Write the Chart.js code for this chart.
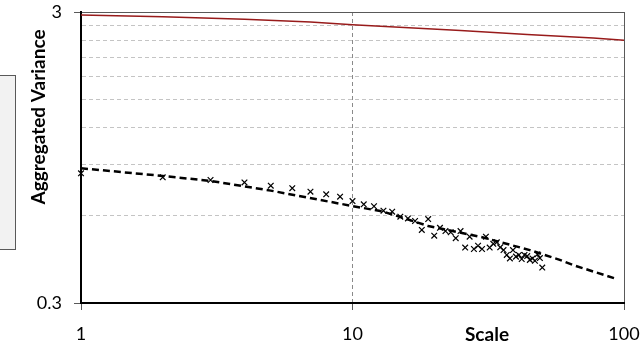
<!DOCTYPE html>
<html>
<head>
<meta charset="utf-8">
<script src="https://cdn.jsdelivr.net/npm/chart.js@4"></script>
<style>
  body { margin: 0; background: #fff; }
  canvas { display: block; }
</style>
</head>
<body>
<canvas id="myChart" width="642" height="342"></canvas>
<script>
// aggregated variance at each scale
const scales = [1, 2, 3, 4, 5, 6, 7, 8, 9, 10, 11, 12, 13, 14, 15, 16, 17, 18, 19, 20,
  21, 22, 23, 24, 25, 26, 27, 28, 29, 30, 31, 32, 33, 34, 35, 36, 37, 38, 39, 40,
  41, 42, 43, 44, 45, 46, 47, 48, 49, 50];
const variances = [0.837, 0.811, 0.794, 0.779, 0.759, 0.744, 0.724, 0.709, 0.696, 0.672,
  0.655, 0.645, 0.623, 0.618, 0.594, 0.586, 0.574, 0.535, 0.583, 0.511,
  0.544, 0.530, 0.525, 0.501, 0.530, 0.465, 0.507, 0.460, 0.472, 0.460,
  0.507, 0.465, 0.479, 0.485, 0.466, 0.456, 0.439, 0.427, 0.456, 0.433,
  0.439, 0.425, 0.439, 0.435, 0.422, 0.427, 0.419, 0.441, 0.428, 0.397];

// fitted curve (dashed)
const fitX = [1, 2, 3, 5, 10, 13, 19, 30, 45, 58, 65, 92];
const fitY = [0.871, 0.820, 0.788, 0.730, 0.646, 0.618, 0.552, 0.505, 0.456, 0.422, 0.405, 0.365];

// reference line (red)
const refX = [1, 2, 4, 7, 10, 25, 44, 77, 100];
const refY = [2.93, 2.89, 2.83, 2.77, 2.71, 2.59, 2.51, 2.44, 2.40];

// axis ticks
const xTicks = [1, 10, 100];
const yTicks = [0.3, 0.6, 0.9, 1.2, 1.5, 1.8, 2.1, 2.4, 2.7, 3];
const yLabels = [0.3, 3];

const FONT = 'Lato, "Open Sans", sans-serif';

function pairs(xs, ys) {
  const out = [];
  for (let i = 0; i < xs.length; i++) {
    out.push({ x: xs[i], y: ys[i] });
  }
  return out;
}

function noPadding(scale) {
  scale.paddingTop = 0;
  scale.paddingBottom = 0;
  scale.paddingLeft = 0;
  scale.paddingRight = 0;
}

// boxes and titles drawn straight on the canvas
const extras = {
  id: 'extras',
  beforeDraw(chart) {
    const ctx = chart.ctx;
    ctx.save();
    ctx.fillStyle = '#f2f2f2';
    ctx.fillRect(-3, 75, 19, 175);
    ctx.strokeStyle = '#595959';
    ctx.lineWidth = 1;
    ctx.strokeRect(-3.5, 75.5, 19, 174);
    ctx.restore();
  },
  afterDraw(chart) {
    const ctx = chart.ctx;
    ctx.save();
    ctx.fillStyle = '#000';
    ctx.font = 'bold 19px ' + FONT;
    ctx.textAlign = 'center';
    ctx.textBaseline = 'alphabetic';
    ctx.fillText('Scale', 487, 341);
    ctx.translate(45, 117);
    ctx.rotate(-Math.PI / 2);
    ctx.fillText('Aggregated Variance', 0, 0);
    ctx.restore();
  },
};

const ctx = document.getElementById('myChart').getContext('2d');
new Chart(ctx, {
  type: 'scatter',
  data: {
    datasets: [
      {
        data: pairs(refX, refY),
        showLine: true,
        borderColor: '#981b1b',
        borderWidth: 1.5,
        pointRadius: 0,
      },
      {
        data: pairs(fitX, fitY),
        showLine: true,
        borderColor: '#000',
        borderWidth: 2.5,
        borderDash: [7, 4],
        pointRadius: 0,
      },
      {
        data: pairs(scales, variances),
        showLine: false,
        pointStyle: 'crossRot',
        pointRadius: 4,
        borderColor: '#000',
        borderWidth: 1.2,
        clip: false,
      },
    ],
  },
  options: {
    responsive: false,
    animation: false,
    layout: { padding: { top: 12, right: 18, left: 0, bottom: 0 } },
    plugins: { legend: { display: false }, tooltip: { enabled: false } },
    scales: {
      x: {
        type: 'logarithmic',
        min: 1,
        max: 100,
        afterBuildTicks: (scale) => {
          scale.ticks = xTicks.map((v) => ({ value: v }));
        },
        afterFit: (scale) => {
          scale.height = 39;
          noPadding(scale);
        },
        ticks: {
          autoSkip: false,
          maxRotation: 0,
          padding: 13,
          color: '#000',
          font: { family: FONT, size: 18 },
          callback: (v) => String(v),
        },
        grid: {
          color: (c) => {
            if (!c.tick) return 'transparent';
            if (c.tick.value === 10) return '#8a8a8a';
            if (c.tick.value === 100) return '#595959';
            return 'transparent';
          },
          tickColor: '#595959',
          tickLength: 7,
          lineWidth: 1,
        },
        border: {
          color: '#000',
          width: 2,
          dash: (c) => (c.tick && c.tick.value === 10 ? [4, 3] : []),
        },
      },
      y: {
        type: 'logarithmic',
        min: 0.3,
        max: 3,
        afterBuildTicks: (scale) => {
          scale.ticks = yTicks.map((v) => ({ value: v }));
        },
        afterFit: (scale) => {
          scale.width = 81;
          noPadding(scale);
        },
        ticks: {
          autoSkip: false,
          padding: 12,
          color: '#000',
          font: { family: FONT, size: 18 },
          callback: (v) => (yLabels.includes(v) ? String(v) : ''),
        },
        grid: {
          color: (c) => {
            if (!c.tick) return 'transparent';
            if (c.tick.value === 3) return '#595959';
            if (c.tick.value === 0.3) return 'transparent';
            return '#c4c4c4';
          },
          tickColor: (c) => (c.tick && yLabels.includes(c.tick.value) ? '#595959' : 'transparent'),
          tickLength: 7,
          lineWidth: 1,
        },
        border: {
          color: '#000',
          width: 2,
          dash: (c) => (c.tick && !yLabels.includes(c.tick.value) ? [4, 3] : []),
        },
      },
    },
  },
  plugins: [extras],
});
</script>
</body>
</html>
